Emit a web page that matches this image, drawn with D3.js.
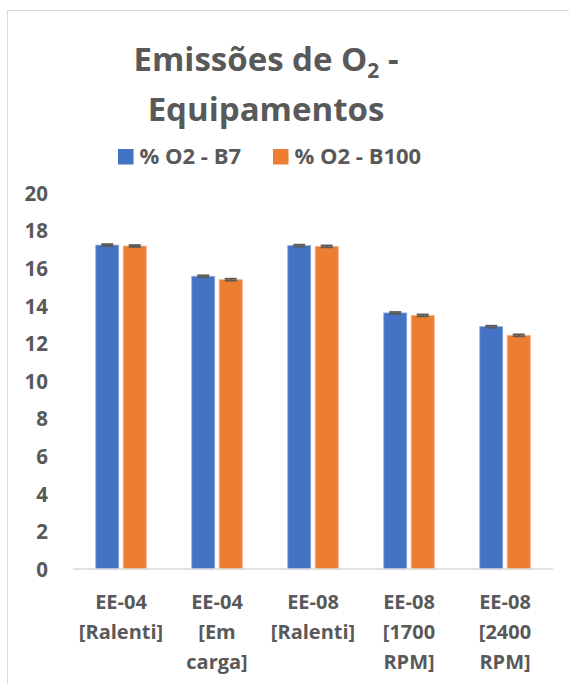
<!DOCTYPE html>
<html>
<head>
<meta charset="utf-8">
<script src="https://cdn.jsdelivr.net/npm/d3@7"></script>
<style>
  html, body { margin: 0; padding: 0; background: #fff; }
  svg { display: block; font-family: "Open Sans", "Noto Sans", sans-serif; }
</style>
</head>
<body>
<svg id="chart" width="569" height="684"></svg>
<script>
// Categories (one array of label lines per equipment / operating condition)
const categories = ["EE-04 [Ralenti]", "EE-04 [Em carga]", "EE-08 [Ralenti]", "EE-08 [1700 RPM]", "EE-08 [2400 RPM]"];
const categoryLines = [
  ["EE-04", "[Ralenti]"],
  ["EE-04", "[Em", "carga]"],
  ["EE-08", "[Ralenti]"],
  ["EE-08", "[1700", "RPM]"],
  ["EE-08", "[2400", "RPM]"]
];

// Series values (% O2)
const seriesNames = ["% O2 - B7", "% O2 - B100"];
const valuesB7   = [17.23, 15.57, 17.20, 13.62, 12.89];
const valuesB100 = [17.18, 15.39, 17.16, 13.49, 12.43];
const errorB7    = [0.05, 0.05, 0.05, 0.05, 0.05];
const errorB100  = [0.05, 0.05, 0.05, 0.05, 0.05];

const yTicks = [0, 2, 4, 6, 8, 10, 12, 14, 16, 18, 20];
const colors = ["#4472C4", "#ED7D31"];
const strokes = ["#8FAADC", "#F4B183"];
const textColor = "#595959";

const svg = d3.select("#chart");

// Chart frame
svg.append("rect")
  .attr("x", 7.5).attr("y", 10.5)
  .attr("width", 620).attr("height", 700)
  .attr("fill", "#fff")
  .attr("stroke", "#d9d9d9").attr("stroke-width", 1);

// Title
const title = svg.append("text")
  .attr("text-anchor", "middle")
  .attr("fill", textColor)
  .attr("font-weight", 700)
  .attr("font-size", 33);
const line1 = title.append("tspan").attr("x", 266).attr("y", 71);
line1.append("tspan").text("Emissões de O");
line1.append("tspan").attr("font-size", 21).attr("dy", 7).text("2");
line1.append("tspan").attr("dy", -7).text(" -");
title.append("tspan").attr("x", 266).attr("y", 121).text("Equipamentos");

// Legend
const legendItems = [
  { name: seriesNames[0], x: 118, color: colors[0] },
  { name: seriesNames[1], x: 273, color: colors[1] }
];
const legend = svg.append("g");
legendItems.forEach(d => {
  legend.append("rect")
    .attr("x", d.x).attr("y", 149)
    .attr("width", 15.5).attr("height", 15.5)
    .attr("fill", d.color);
  legend.append("text")
    .attr("x", d.x + 21.5).attr("y", 164)
    .attr("fill", textColor)
    .attr("font-weight", 700)
    .attr("font-size", 22)
    .text(d.name);
});

// Scales
const x0 = d3.scaleBand()
  .domain(categories)
  .range([73, 553])
  .paddingInner(0.474)
  .paddingOuter(0.237);

const x1 = d3.scaleBand()
  .domain(seriesNames)
  .range([0, x0.bandwidth()])
  .paddingInner(0.164)
  .paddingOuter(0);

const y = d3.scaleLinear().domain([0, 20]).range([569, 193]);

// Y axis labels
const yAxis = d3.axisLeft(y).tickValues(yTicks).tickSize(0).tickPadding(0);
const yg = svg.append("g").attr("transform", "translate(48,0)").call(yAxis);
yg.select(".domain").remove();
yg.selectAll("text")
  .attr("fill", textColor)
  .attr("font-family", "'Open Sans', 'Noto Sans', sans-serif")
  .attr("font-weight", 700)
  .attr("font-size", 20.5)
  .attr("dy", "0.36em");

// Bars
const data = categories.map((c, i) => ({
  category: c,
  values: [
    { series: seriesNames[0], value: valuesB7[i], err: errorB7[i], k: 0 },
    { series: seriesNames[1], value: valuesB100[i], err: errorB100[i], k: 1 }
  ]
}));

const groups = svg.append("g").selectAll("g")
  .data(data).join("g")
  .attr("transform", d => `translate(${x0(d.category)},0)`);

groups.selectAll("rect")
  .data(d => d.values).join("rect")
  .attr("x", d => x1(d.series))
  .attr("y", d => y(d.value))
  .attr("width", x1.bandwidth())
  .attr("height", d => y(0) - y(d.value))
  .attr("fill", d => colors[d.k])
  .attr("stroke", d => strokes[d.k])
  .attr("stroke-width", 0.8);

// Error bars
const eb = groups.selectAll("g.err")
  .data(d => d.values).join("g").attr("class", "err");
eb.append("line")
  .attr("x1", d => x1(d.series) + x1.bandwidth() / 2)
  .attr("x2", d => x1(d.series) + x1.bandwidth() / 2)
  .attr("y1", d => y(d.value + d.err))
  .attr("y2", d => y(d.value - d.err))
  .attr("stroke", textColor).attr("stroke-width", 1.5);
eb.selectAll("line.cap")
  .data(d => [{ d, v: d.value + d.err }, { d, v: d.value - d.err }])
  .join("line").attr("class", "cap")
  .attr("x1", c => x1(c.d.series) + x1.bandwidth() / 2 - 6)
  .attr("x2", c => x1(c.d.series) + x1.bandwidth() / 2 + 6)
  .attr("y1", c => y(c.v))
  .attr("y2", c => y(c.v))
  .attr("stroke", textColor).attr("stroke-width", 1.8);

// Category axis line
svg.append("line")
  .attr("x1", x0.range()[0]).attr("x2", x0.range()[1])
  .attr("y1", y(0)).attr("y2", y(0))
  .attr("stroke", "#d9d9d9").attr("stroke-width", 1.5);

// Category labels
const xl = svg.append("g").selectAll("text")
  .data(categories).join("text")
  .attr("text-anchor", "middle")
  .attr("fill", textColor)
  .attr("font-weight", 700)
  .attr("font-size", 20);
xl.each(function(c, i) {
  const cx = x0(c) + x0.bandwidth() / 2;
  d3.select(this).selectAll("tspan")
    .data(categoryLines[i]).join("tspan")
    .attr("x", cx)
    .attr("y", (t, j) => 609 + j * 30)
    .text(t => t);
});
</script>
</body>
</html>
